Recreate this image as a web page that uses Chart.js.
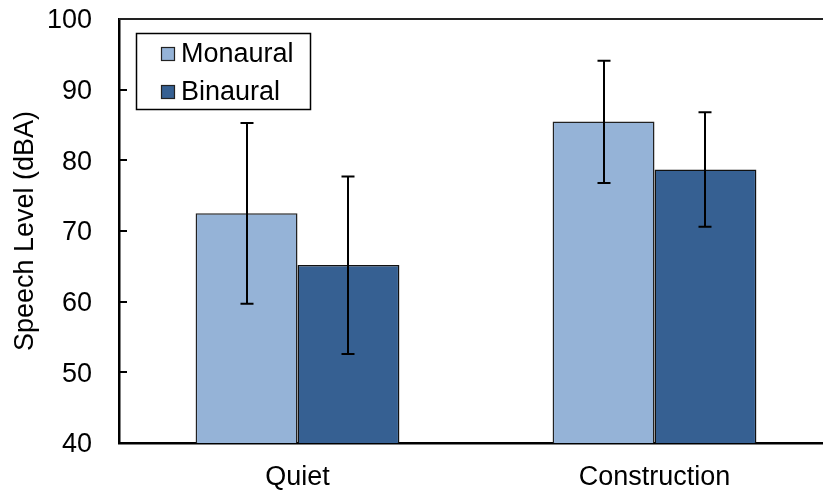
<!DOCTYPE html>
<html>
<head>
<meta charset="utf-8">
<script src="https://cdn.jsdelivr.net/npm/chart.js@4"></script>
<style>
  html, body { margin: 0; padding: 0; background: #fff; overflow: hidden; }
  #wrap { position: absolute; left: 0; top: 0; width: 833px; height: 493px; }
</style>
</head>
<body>
<div id="wrap"><canvas id="chart" width="833" height="493"></canvas></div>
<script>
// Chart data
const categories = ['Quiet', 'Construction'];
const seriesNames = ['Monaural', 'Binaural'];
const monauralMean = [72.5, 85.5];
const binauralMean = [65.2, 78.7];
const monauralLow = [59.7, 76.8];
const monauralHigh = [85.3, 94.1];
const binauralLow = [52.6, 70.6];
const binauralHigh = [77.7, 86.8];
const yTicks = [40, 50, 60, 70, 80, 90, 100];

const FONT = '"Liberation Sans", Arial, sans-serif';
const colors = ['#95B3D7', '#366092'];

// error bars drawn from the low/high arrays through the y scale
const errorBars = {
  id: 'errorBars',
  afterDatasetsDraw(chart) {
    const ctx = chart.ctx;
    const y = chart.scales.y;
    const lows = [monauralLow, binauralLow];
    const highs = [monauralHigh, binauralHigh];
    ctx.save();
    ctx.strokeStyle = '#000';
    ctx.lineWidth = 2;
    chart.data.datasets.forEach((ds, di) => {
      chart.getDatasetMeta(di).data.forEach((bar, i) => {
        const x = Math.round(bar.x);
        const yl = y.getPixelForValue(lows[di][i]);
        const yh = y.getPixelForValue(highs[di][i]);
        ctx.beginPath();
        ctx.moveTo(x, yl); ctx.lineTo(x, yh);
        ctx.moveTo(x - 6.5, yl); ctx.lineTo(x + 6.5, yl);
        ctx.moveTo(x - 6.5, yh); ctx.lineTo(x + 6.5, yh);
        ctx.stroke();
      });
    });
    ctx.restore();
  }
};

// inward ticks, top frame line and the boxed legend
const frame = {
  id: 'frame',
  afterDraw(chart) {
    const ctx = chart.ctx;
    const a = chart.chartArea;
    const y = chart.scales.y;
    ctx.save();
    ctx.strokeStyle = '#000';
    ctx.lineWidth = 2;
    yTicks.forEach(v => {
      const py = Math.round(y.getPixelForValue(v));
      ctx.beginPath();
      ctx.moveTo(a.left, py); ctx.lineTo(a.left + 8, py);
      ctx.stroke();
    });
    ctx.strokeStyle = '#222';
    ctx.beginPath();
    ctx.moveTo(a.left, a.top); ctx.lineTo(a.right, a.top);
    ctx.stroke();

    // legend
    const lx = a.left + 17, ly = a.top + 14, lw = 174, lh = 76;
    ctx.fillStyle = '#fff';
    ctx.fillRect(lx, ly, lw, lh);
    ctx.lineWidth = 1.5;
    ctx.strokeStyle = '#000';
    ctx.strokeRect(lx + 0.5, ly + 0.5, lw, lh);
    ctx.font = '27px ' + FONT;
    ctx.textBaseline = 'middle';
    chart.data.datasets.forEach((ds, i) => {
      const cy = ly + 21 + i * 38;
      ctx.fillStyle = ds.backgroundColor;
      ctx.fillRect(lx + 25, cy - 7, 14, 14);
      ctx.lineWidth = 1.2;
      ctx.strokeStyle = '#222';
      ctx.strokeRect(lx + 25.5, cy - 6.5, 13, 13);
      ctx.fillStyle = '#000';
      ctx.fillText(ds.label, lx + 45, cy + 1);
    });
    ctx.restore();
  }
};

new Chart(document.getElementById('chart'), {
  type: 'bar',
  data: {
    labels: categories,
    datasets: [
      { label: seriesNames[0], data: monauralMean, backgroundColor: colors[0], borderColor: '#222', borderWidth: 1.5 },
      { label: seriesNames[1], data: binauralMean, backgroundColor: colors[1], borderColor: '#111', borderWidth: 1.5 }
    ]
  },
  options: {
    responsive: false,
    animation: false,
    layout: { padding: { top: 19, right: 0, left: 0, bottom: 0 } },
    datasets: { bar: { categoryPercentage: 0.571, barPercentage: 1 } },
    plugins: { legend: { display: false }, tooltip: { enabled: false } },
    scales: {
      x: {
        grid: { display: false, drawTicks: false },
        border: { color: '#000', width: 2.5 },
        ticks: { color: '#000', font: { family: FONT, size: 27 }, padding: 18 },
        afterFit(scale) { scale.height = 50; scale.paddingLeft = 0; scale.paddingRight = 0; }
      },
      y: {
        min: 40, max: 100,
        afterBuildTicks(scale) { scale.ticks = yTicks.map(v => ({ value: v })); },
        grid: { display: false, drawTicks: false },
        border: { color: '#000', width: 2.5 },
        ticks: { color: '#000', font: { family: FONT, size: 27 }, padding: 27, labelOffset: 2 },
        title: { display: true, text: 'Speech Level (dBA)', color: '#000', font: { family: FONT, size: 27 }, padding: { top: 9, bottom: 0 } },
        afterFit(scale) { scale.width = 119; scale.paddingTop = 0; scale.paddingBottom = 0; }
      }
    }
  },
  plugins: [errorBars, frame]
});
</script>
</body>
</html>
